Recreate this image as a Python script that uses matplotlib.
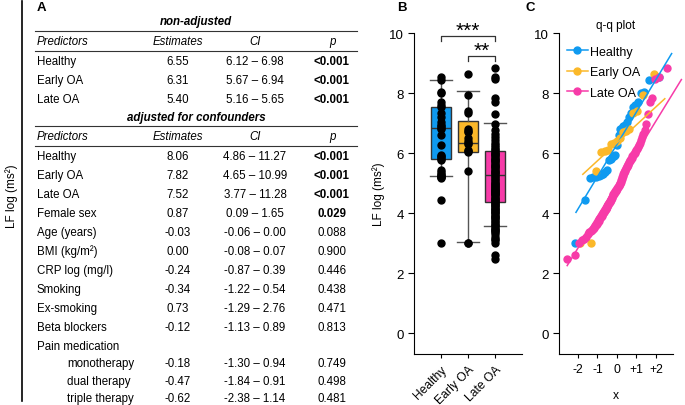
import matplotlib

matplotlib.use("Agg")
import matplotlib.pyplot as plt
from matplotlib.lines import Line2D
from statistics import NormalDist

plt.rcParams["font.family"] = ["Liberation Sans", "DejaVu Sans"]

W, H = 685, 406

GROUPS = ["Healthy", "Early OA", "Late OA"]
COLORS = ["#0f9af0", "#fbb829", "#f73ba8"]

# --- table A -----------------------------------------------------------
NONADJ_PREDICTORS = ["Healthy", "Early OA", "Late OA"]
NONADJ_ESTIMATES = ["6.55", "6.31", "5.40"]
NONADJ_CI = ["6.12 – 6.98", "5.67 – 6.94", "5.16 – 5.65"]
NONADJ_P = ["<0.001", "<0.001", "<0.001"]

ADJ_PREDICTORS = ["Healthy", "Early OA", "Late OA", "Female sex", "Age (years)",
                  "BMI (kg/m²)", "CRP log (mg/l)", "Smoking", "Ex-smoking",
                  "Beta blockers", "Pain medication", "monotherapy",
                  "dual therapy", "triple therapy"]
ADJ_ESTIMATES = ["8.06", "7.82", "7.52", "0.87", "-0.03", "0.00", "-0.24", "-0.34",
                 "0.73", "-0.12", "", "-0.18", "-0.47", "-0.62"]
ADJ_CI = ["4.86 – 11.27", "4.65 – 10.99", "3.77 – 11.28", "0.09 – 1.65",
          "-0.06 – 0.00", "-0.08 – 0.07", "-0.87 – 0.39", "-1.22 – 0.54",
          "-1.29 – 2.76", "-1.13 – 0.89", "", "-1.30 – 0.94", "-1.84 – 0.91",
          "-2.38 – 1.14"]
ADJ_P = ["<0.001", "<0.001", "<0.001", "0.029", "0.088", "0.900", "0.446", "0.438",
         "0.471", "0.813", "", "0.749", "0.498", "0.481"]
ADJ_INDENT = [False] * 11 + [True] * 3

# --- panel B: box summary (whislo, q1, med, q3, whishi) ------------------
BOX_WHISLO = [5.23, 3.05, 3.58]
BOX_Q1 = [5.81, 6.04, 4.38]
BOX_MED = [6.84, 6.34, 5.28]
BOX_Q3 = [7.55, 7.09, 6.08]
BOX_WHISHI = [8.45, 8.07, 7.00]

# individual LF log values per group (sorted)
HEALTHY = [3.0, 4.45, 5.18, 5.2, 5.22, 5.25, 5.28, 5.32, 5.38, 5.45, 5.78, 5.82,
           5.88, 5.92, 5.95, 6.28, 6.6, 6.82, 6.85, 6.9, 6.95, 7.05, 7.2, 7.35,
           7.55, 7.6, 7.7, 8.0, 8.05, 8.45, 8.55]
EARLY_OA = [3.0, 3.0, 5.4, 6.05, 6.08, 6.1, 6.3, 6.35, 6.4, 6.5, 6.7, 6.75, 6.8,
            7.35, 7.4, 7.95, 8.65]
LATE_OA = [2.48, 2.62, 3.0, 3.1, 3.15, 3.22, 3.3, 3.38, 3.42, 3.45, 3.48, 3.52,
           3.58, 3.62, 3.66, 3.7, 3.75, 3.8, 3.84, 3.88, 3.92, 3.96, 4.0, 4.03,
           4.06, 4.1, 4.13, 4.16, 4.2, 4.24, 4.28, 4.32, 4.35, 4.38, 4.42, 4.45,
           4.48, 4.52, 4.56, 4.6, 4.63, 4.66, 4.69, 4.72, 4.74, 4.76, 4.78, 4.8,
           4.83, 4.87, 4.9, 4.94, 4.98, 5.02, 5.06, 5.1, 5.15, 5.2, 5.25, 5.3,
           5.34, 5.38, 5.42, 5.46, 5.5, 5.54, 5.58, 5.62, 5.66, 5.7, 5.74, 5.78,
           5.82, 5.86, 5.9, 5.94, 5.98, 6.02, 6.05, 6.1, 6.15, 6.2, 6.28, 6.35,
           6.45, 6.55, 6.65, 6.78, 6.97, 7.3, 7.7, 7.85, 8.48, 8.55, 8.85]
GROUP_VALUES = [HEALTHY, EARLY_OA, LATE_OA]

# --- panel C: reference lines of the q-q plot ---------------------------
QQ_INTERCEPT = [6.30, 6.35, 4.96]
QQ_SLOPE = [1.08, 0.60, 1.06]
QQ_XMIN = [-2.1, -1.75, -2.55]
QQ_XMAX = [2.8, 2.45, 3.3]
QQ_TICKS = [-2, -1, 0, 1, 2]
QQ_TICKLABELS = ["-2", "-1", "0", "+1", "+2"]


def is_bold(p):
    return p.startswith("<") or (p != "" and float(p) < 0.05)


def draw_rows(ax, y_rows, preds, ests, cis, ps, indent):
    for y, pr, es, ci, p, ind in zip(y_rows, preds, ests, cis, ps, indent):
        ax.text(67 if ind else 37, y, pr, ha="left", va="center", fontsize=8.3)
        ax.text(178, y, es, ha="center", va="center", fontsize=8.3)
        ax.text(255, y, ci, ha="center", va="center", fontsize=8.3)
        ax.text(332, y, p, ha="center", va="center", fontsize=8.3,
                fontweight="bold" if is_bold(p) else "normal")


def draw_header(ax, y):
    for x, lab, ha in ((37, "Predictors", "left"), (178, "Estimates", "center"),
                       (255, "CI", "center"), (332, "p", "center")):
        ax.text(x, y, lab, ha=ha, va="center", fontsize=8.3, style="italic")


fig = plt.figure(figsize=(W / 100, H / 100), dpi=100)

# table panel on pixel coordinates
tab = fig.add_axes([0, 0, 1, 1])
tab.set_xlim(0, W)
tab.set_ylim(H, 0)
tab.axis("off")
tab.plot([22, 22], [2, 402], color="black", lw=1.2)
tab.text(12, 196, "LF log (ms²)", rotation=90, ha="center", va="center", fontsize=8.5)
tab.text(37, 8, "A", fontsize=9.5, fontweight="bold", va="center")
for y in (32, 52, 127, 147):
    tab.plot([35, 357], [y, y], color="#333333", lw=0.8)

tab.text(196, 22, "non-adjusted", ha="center", va="center", fontsize=8.3,
         style="italic", fontweight="bold")
draw_header(tab, 42)
draw_rows(tab, [62 + 19 * i for i in range(len(NONADJ_PREDICTORS))],
          NONADJ_PREDICTORS, NONADJ_ESTIMATES, NONADJ_CI, NONADJ_P,
          [False] * len(NONADJ_PREDICTORS))

tab.text(196, 118, "adjusted for confounders", ha="center", va="center", fontsize=8.3,
         style="italic", fontweight="bold")
draw_header(tab, 137)
adj_y = []
y = 157
for i, ind in enumerate(ADJ_INDENT):
    if i:
        y += 17.5 if ind else 19
    adj_y.append(y)
draw_rows(tab, adj_y, ADJ_PREDICTORS, ADJ_ESTIMATES, ADJ_CI, ADJ_P, ADJ_INDENT)

# --- panel B: boxplot -----------------------------------------------------
axb = fig.add_axes([414 / W, 1 - 355 / H, 108 / W, (355 - 34.3) / H])
stats = [
    dict(whislo=lo, q1=q1, med=md, q3=q3, whishi=hi, fliers=[])
    for lo, q1, md, q3, hi in zip(BOX_WHISLO, BOX_Q1, BOX_MED, BOX_Q3, BOX_WHISHI)
]
bp = axb.bxp(stats, positions=range(len(GROUPS)), widths=0.72, capwidths=0.8,
             patch_artist=True, showfliers=False,
             boxprops=dict(edgecolor="#333333", linewidth=1),
             medianprops=dict(color="#333333", linewidth=1),
             whiskerprops=dict(color="#555555", linewidth=1),
             capprops=dict(color="#555555", linewidth=1))
for patch, c in zip(bp["boxes"], COLORS):
    patch.set_facecolor(c)
for i, vals in enumerate(GROUP_VALUES):
    axb.plot([i] * len(vals), vals, "o", color="black", ms=5, zorder=4)

axb.set_xlim(-1, 3)
axb.set_ylim(-0.69, 10)
axb.set_yticks(range(0, 11, 2))
axb.set_xticks(range(len(GROUPS)))
axb.set_xticklabels(GROUPS, rotation=45, ha="right", rotation_mode="anchor", fontsize=8.7)
axb.tick_params(axis="y", labelsize=9.5, length=4)
axb.tick_params(axis="x", length=3)
axb.set_ylabel("LF log (ms²)", fontsize=8.5, labelpad=3)
for s in ("top", "right"):
    axb.spines[s].set_visible(False)


def bracket(ax, x0, x1, y, drop, label):
    ax.plot([x0, x0, x1, x1], [y - drop, y, y, y - drop], color="#333333", lw=0.9,
            clip_on=False)
    ax.text((x0 + x1) / 2, y - 0.12, label, ha="center", va="bottom", fontsize=15,
            clip_on=False)


bracket(axb, 0, 2, 9.9, 0.15, "***")
bracket(axb, 1, 2, 9.25, 0.16, "**")
fig.text(397 / W, 1 - 8 / H, "B", fontsize=9.5, fontweight="bold", va="center")

# --- panel C: q-q plot -----------------------------------------------------
axc = fig.add_axes([559 / W, 1 - 355 / H, 114 / W, (355 - 34.3) / H])
nd = NormalDist()
handles = []
for vals, c, b0, b1, x0, x1 in zip(GROUP_VALUES, COLORS, QQ_INTERCEPT, QQ_SLOPE,
                                   QQ_XMIN, QQ_XMAX):
    n = len(vals)
    qx = [nd.inv_cdf((k + 0.5) / n) for k in range(n)]
    axc.plot(qx, sorted(vals), "o", color=c, ms=5, zorder=3)
    axc.plot([x0, x1], [b0 + b1 * x0, b0 + b1 * x1], color=c, lw=1.1, zorder=4,
             clip_on=False)
    handles.append(Line2D([], [], color=c, marker="o", ms=5, lw=1.1))

axc.set_xlim(-2.97, 2.87)
axc.set_ylim(-0.69, 10)
axc.set_yticks(range(0, 11, 2))
axc.set_xticks(QQ_TICKS)
axc.set_xticklabels(QQ_TICKLABELS, fontsize=8.7)
axc.tick_params(axis="y", labelsize=9.5, length=4)
axc.tick_params(axis="x", length=3)
axc.set_xlabel("x", fontsize=8.7, labelpad=10)
axc.set_title("q-q plot", fontsize=8.5, pad=4)
for s in ("top", "right"):
    axc.spines[s].set_visible(False)
axc.legend(handles, GROUPS, loc="upper left", bbox_to_anchor=(0.0, 0.985),
           frameon=False, fontsize=9, handlelength=1.7, handletextpad=0.2,
           borderaxespad=0.3, labelspacing=0.68, borderpad=0.3)
fig.text(526 / W, 1 - 8 / H, "C", fontsize=9.5, fontweight="bold", va="center")

fig.savefig("out.png", dpi=100)
